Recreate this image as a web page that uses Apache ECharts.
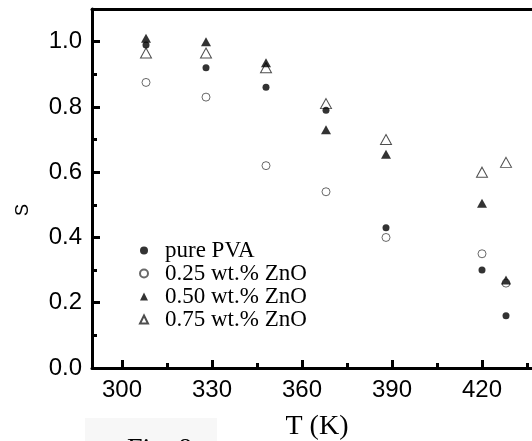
<!DOCTYPE html>
<html>
<head>
<meta charset="utf-8">
<script src="https://cdn.jsdelivr.net/npm/echarts@6/dist/echarts.min.js"></script>
<style>html,body{margin:0;padding:0;background:#fff;}#chart{width:532px;height:441px;}</style>
</head>
<body>
<div id="chart"></div>
<script>
var temperatures = [308, 328, 348, 368, 388, 420, 428];
var purePVA = [0.99, 0.92, 0.86, 0.79, 0.43, 0.30, 0.16];
var zno025 = [0.875, 0.83, 0.62, 0.54, 0.40, 0.35, 0.26];
var zno050 = [1.01, 1.00, 0.935, 0.73, 0.655, 0.505, 0.27];
var zno075 = [0.965, 0.965, 0.92, 0.81, 0.70, 0.60, 0.63];
var seriesNames = ['pure PVA', '0.25 wt.% ZnO', '0.50 wt.% ZnO', '0.75 wt.% ZnO'];
var xTicks = [300, 330, 360, 390, 420];
var xMinorTicks = [315, 345, 375, 405, 435];
var yTicks = [0.0, 0.2, 0.4, 0.6, 0.8, 1.0];

function pairs(vals) { return temperatures.map(function (t, i) { return [t, vals[i]]; }); }

var chart = echarts.init(document.getElementById('chart'), null, {renderer: 'canvas'});
var serif = 'Liberation Serif';
var sans = 'Liberation Sans';

chart.setOption({
  animation: false,
  backgroundColor: '#fff',
  grid: {left: 92, top: 9, bottom: 73, right: -10, containLabel: false, outerBoundsMode: 'none'},
  xAxis: [{
    type: 'value', min: 290, max: 440,
    name: 'T (K)', nameLocation: 'middle', nameGap: 45,
    nameTextStyle: {fontFamily: serif, fontSize: 28, color: '#000'},
    axisLine: {show: true, onZero: false, lineStyle: {color: '#000', width: 3}},
    axisTick: {show: true, inside: true, length: 8, customValues: xTicks, lineStyle: {color: '#000', width: 3}},
    axisLabel: {fontFamily: sans, fontSize: 24, color: '#000', margin: 10, customValues: xTicks},
    splitLine: {show: false}
  }, {
    type: 'value', position: 'bottom', min: 290, max: 440,
    axisLine: {show: false, onZero: false},
    axisTick: {show: true, inside: true, length: 5, customValues: xMinorTicks, lineStyle: {color: '#000', width: 3}},
    axisLabel: {show: false}, splitLine: {show: false}
  }, {
    type: 'value', position: 'top', min: 290, max: 440,
    axisLine: {show: true, onZero: false, lineStyle: {color: '#000', width: 3}},
    axisTick: {show: false}, axisLabel: {show: false}, splitLine: {show: false}
  }],
  yAxis: [{
    type: 'value', min: 0, max: 1.1, interval: 0.2,
    axisLine: {show: true, onZero: false, lineStyle: {color: '#000', width: 3}},
    axisTick: {show: true, inside: true, length: 8, lineStyle: {color: '#000', width: 3}},
    minorTick: {show: true, splitNumber: 2, length: 5, lineStyle: {color: '#000', width: 3}},
    axisLabel: {fontFamily: sans, fontSize: 24, color: '#000', margin: 10, showMaxLabel: false,
      formatter: function (v) {
        for (var i = 0; i < yTicks.length; i++) { if (Math.abs(yTicks[i] - v) < 1e-6) return yTicks[i].toFixed(1); }
        return '';
      }},
    splitLine: {show: false}
  }],
  legend: {
    orient: 'vertical', left: 134, top: 234, itemWidth: 8, itemHeight: 8, itemGap: 0,
    data: seriesNames,
    textStyle: {fontFamily: serif, fontSize: 23, color: '#000', lineHeight: 21, padding: [0, 0, 0, 12]}
  },
  graphic: [
    {type: 'rect', left: 85, top: 418, shape: {width: 132, height: 30}, style: {fill: '#f7f7f7'}, z: -1},
    {type: 'text', left: 127, top: 436, style: {text: 'Fig. 8', font: '28px "Liberation Serif"', fill: '#000'}},
    {type: 'text', x: 23, y: 210, rotation: Math.PI / 2, style: {text: 'S', font: '18px "Liberation Sans"', fill: '#000', align: 'center', verticalAlign: 'middle'}}
  ],
  series: [
    {name: seriesNames[0], type: 'scatter', data: pairs(purePVA), symbol: 'circle', symbolSize: 7,
      itemStyle: {color: '#000'}, z: 3},
    {name: seriesNames[1], type: 'scatter', data: pairs(zno025), symbol: 'circle', symbolSize: 8,
      itemStyle: {color: '#fff', borderColor: '#444', borderWidth: 1}, z: 2},
    {name: seriesNames[2], type: 'scatter', data: pairs(zno050), symbol: 'triangle', symbolSize: [10, 9],
      itemStyle: {color: '#000'}, z: 4},
    {name: seriesNames[3], type: 'scatter', data: pairs(zno075), symbol: 'triangle', symbolSize: [11, 10],
      itemStyle: {color: '#fff', borderColor: '#222', borderWidth: 1}, z: 2}
  ]
});
</script>
</body>
</html>
